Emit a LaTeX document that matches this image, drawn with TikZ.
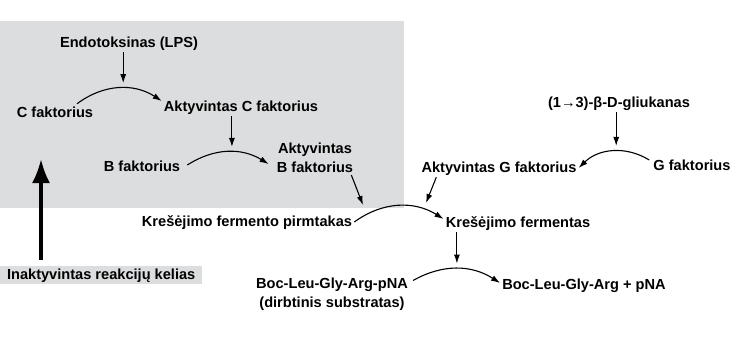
\documentclass[tikz,border=0pt]{standalone}
\usepackage{fontspec}
\setmainfont{Liberation Sans}
\usetikzlibrary{arrows.meta}
\definecolor{boxgray}{RGB}{220,221,223}

\begin{document}
\begin{tikzpicture}[x=1pt,y=1pt,
	lbl/.style={font=\fontsize{14.6}{19}\selectfont\bfseries, inner sep=2pt, text height=11pt, text depth=3pt},
	lbltwo/.style={font=\fontsize{14.6}{19}\selectfont\bfseries, inner sep=2pt, align=center},
	arr/.style={-{Latex[length=9pt,width=6pt]}, line width=1.1pt},
	bigarr/.style={-{Latex[length=24pt,width=18pt]}, line width=3.5pt}]
	\useasboundingbox (0,0) rectangle (745,-343);
	
	% inactivated pathway
	\fill[boxgray] (0,-21) rectangle (404,-208);
	\node[lbl, fill=boxgray, minimum width=202pt, anchor=west] (inact) at (0,-275) {Inaktyvintas reakcijų kelias};
	\coordinate (inacttip) at (41,-159);
	\draw[bigarr] ([yshift=6pt]inact.north -| inacttip) -- (inacttip);
	
	\node[lbl] (endo) at (129,-43) {Endotoksinas (LPS)};
	\node[lbl] (cfak) at (55,-113) {C faktorius};
	\node[lbl] (acfak) at (241,-107) {Aktyvintas C faktorius};
	\node[lbl] (bfak) at (142,-167) {B faktorius};
	\node[lbltwo] (abfak) at (315,-158) {Aktyvintas\\B faktorius};
	
	\draw[arr] ([xshift=22pt]cfak.north) to[bend left=35] coordinate[pos=.55,yshift=5pt] (c1top) ([yshift=6pt]acfak.west);
	\draw[arr] (endo.south -| c1top) -- (c1top);
	\draw[arr] ([xshift=5pt,yshift=2pt]bfak.east) to[bend left=32] coordinate[pos=.55,yshift=5pt] (c2top) ([xshift=-6pt,yshift=-6pt]abfak.west);
	\draw[arr] (acfak.south -| c2top) -- (c2top);
	
	% G factor pathway
	\node[lbl] (gluc) at (619,-103) {(1→3)-β-D-gliukanas};
	\node[lbl] (gfak) at (692,-166) {G faktorius};
	\node[lbl] (agfak) at (499,-168) {Aktyvintas G faktorius};
	\draw[arr] ([xshift=-2pt,yshift=6pt]gfak.west) to[bend right=38] coordinate[pos=.45,yshift=5pt] (c5top) (agfak.east);
	\draw[arr] (gluc.south -| c5top) -- (c5top);
	
	% clotting enzyme
	\node[lbl] (kfp) at (247,-222) {Krešėjimo fermento pirmtakas};
	\node[lbl] (kf) at (518,-223) {Krešėjimo fermentas};
	\draw[arr] (kfp.east) to[bend left=34] coordinate[pos=.5,yshift=5pt] (c3top) ([yshift=4pt]kf.west);
	\coordinate (c3left) at (363,-205);
	\coordinate (c3right) at (426,-203);
	\draw[arr] ([xshift=-4pt]abfak.south east) -- (c3left);
	\draw[arr] ([xshift=17pt]agfak.south west) -- (c3right);
	
	% substrate
	\node[lbltwo] (bpna) at (332,-294) {Boc-Leu-Gly-Arg-pNA\\(dirbtinis substratas)};
	\node[lbl] (bpa) at (584,-285) {Boc-Leu-Gly-Arg + pNA};
	\draw[arr] ([xshift=3pt,yshift=-5pt]bpna.north east) to[bend left=31] coordinate[pos=.5,yshift=5pt] (c4top) ([yshift=2pt]bpa.west);
	\draw[arr] (kf.south -| c4top) -- (c4top);
\end{tikzpicture}
\end{document}
